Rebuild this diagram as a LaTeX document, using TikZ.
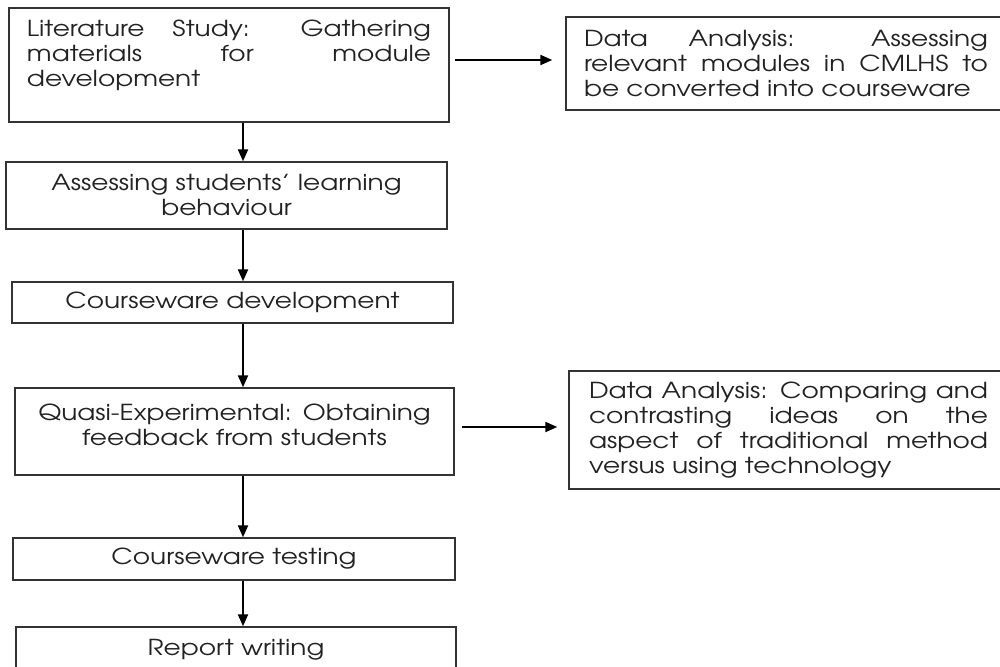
\documentclass[tikz,border=0pt]{standalone}
\usepackage{fontspec}
\setmainfont[FakeStretch=1.2]{TeX Gyre Adventor}
\usetikzlibrary{arrows.meta}
\definecolor{boxgray}{HTML}{333333}
\definecolor{txtgray}{HTML}{222222}
\begin{document}
\begin{tikzpicture}[x=1pt,y=-1pt,
  box/.style={draw=boxgray, line width=1.4pt, inner xsep=0pt, inner ysep=0pt,
    text=txtgray, font=\fontsize{22}{25}\selectfont},
  jbox/.style={box, align=justify},
  cbox/.style={box, align=center},
  flow/.style={-{Triangle[length=12pt,width=10pt]}, line width=2pt, black}]
\clip (0,0) rectangle (1000,666);
\useasboundingbox (0,0) rectangle (1000,666);
\coordinate (ax) at (243,0);
\coordinate (h1) at (0,60);
\coordinate (h2) at (0,427);

\node[jbox, minimum width=440, minimum height=114, text width=404] (lit) at (229,65)
  {Literature Study: Gathering\linebreak materials for module\linebreak development\par\vspace*{19pt}};
\node[jbox, minimum width=440, minimum height=93, text width=404] (da1) at (786,63.5)
  {Data Analysis: Assessing\linebreak relevant modules in CMLHS to\linebreak be converted into courseware};
\node[cbox, minimum width=441, minimum height=67, text width=430] (beh) at (226.5,195.5)
  {Assessing students’ learning\\ behaviour};
\node[cbox, minimum width=441, minimum height=41, text width=430] (dev) at (232.5,302.5)
  {Courseware development};
\node[cbox, minimum width=439, minimum height=87, text width=430] (quasi) at (234.5,431.5)
  {Quasi-Experimental: Obtaining\\ feedback from students\par\vspace*{13pt}};
\node[jbox, minimum width=439, minimum height=118, text width=399] (da2) at (788.5,430)
  {Data Analysis: Comparing and\linebreak contrasting ideas on the\linebreak aspect of traditional method\linebreak versus using technology};
\node[cbox, minimum width=442, minimum height=42, text width=430] (test) at (234,559)
  {Courseware testing};
\node[cbox, minimum width=440, minimum height=46, text width=430] (rep) at (236,650)
  {Report writing};

\draw[flow] (lit.south -| ax) -- (beh.north -| ax);
\draw[flow] (beh.south -| ax) -- (dev.north -| ax);
\draw[flow] (dev.south -| ax) -- (quasi.north -| ax);
\draw[flow] (quasi.south -| ax) -- (test.north -| ax);
\draw[flow] (test.south -| ax) -- (rep.north -| ax);
\draw[flow, shorten <=5pt, shorten >=13pt] (lit.east |- h1) -- (da1.west |- h1);
\draw[flow, shorten <=7pt, shorten >=11pt] (quasi.east |- h2) -- (da2.west |- h2);
\end{tikzpicture}
\end{document}
